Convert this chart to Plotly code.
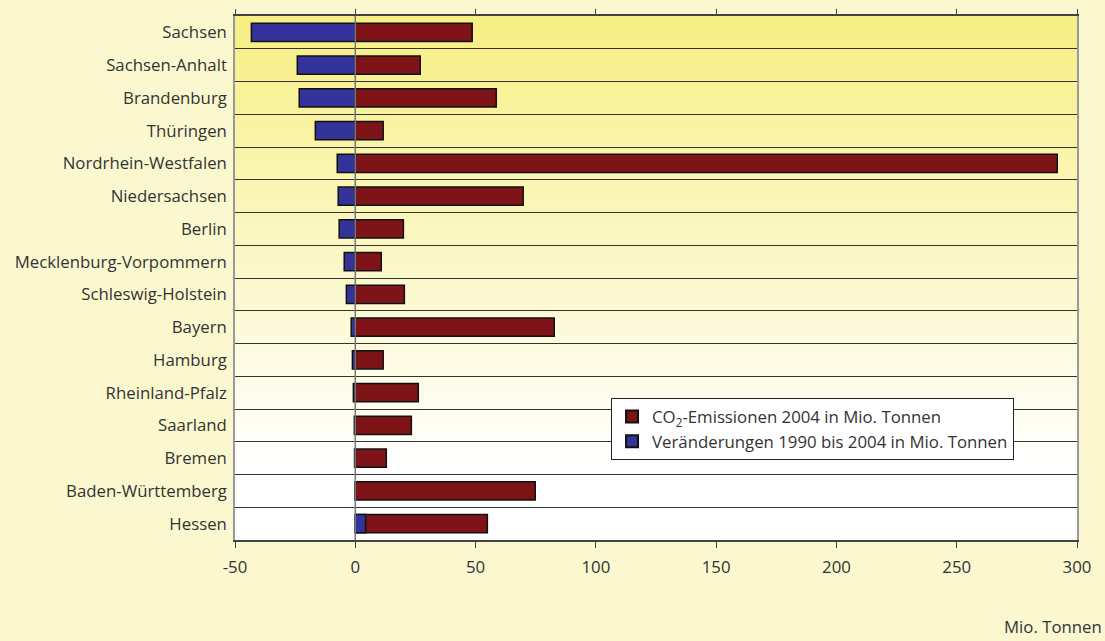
import plotly.graph_objects as go

states = ["Sachsen", "Sachsen-Anhalt", "Brandenburg", "Thüringen", "Nordrhein-Westfalen",
          "Niedersachsen", "Berlin", "Mecklenburg-Vorpommern", "Schleswig-Holstein", "Bayern",
          "Hamburg", "Rheinland-Pfalz", "Saarland", "Bremen", "Baden-Württemberg", "Hessen"]
co2_2004 = [48.6, 27.0, 58.6, 11.6, 291.8, 69.8, 20.0, 10.8, 20.4, 82.7,
            11.6, 26.2, 23.3, 12.9, 74.8, 54.9]
change_1990_2004 = [-43.2, -24.1, -23.3, -16.6, -7.5, -7.1, -6.7, -4.6, -3.7, -1.7,
                    -1.2, -0.8, -0.4, -0.3, -0.1, 4.3]
x_ticks = [-50, 0, 50, 100, 150, 200, 250, 300]
x_tick_labels = ["-50", "0", "50", "100", "150", "200", "250", "300"]

pos = list(range(len(states)))
font = "Open Sans"
fs = 16.8

fig = go.Figure()
fig.add_trace(go.Bar(y=pos, x=co2_2004, orientation="h", width=0.55,
                     name="CO<sub>2</sub>-Emissionen 2004 in Mio. Tonnen",
                     marker=dict(color="#7F1418", line=dict(color="#111111", width=1.5))))
fig.add_trace(go.Bar(y=pos, x=change_1990_2004, orientation="h", width=0.55,
                     name="Veränderungen 1990 bis 2004 in Mio. Tonnen",
                     marker=dict(color="#333399", line=dict(color="#111111", width=1.5))))
fig.add_trace(go.Scatter(x=[x_ticks[0], x_ticks[-1]], y=[0, 0], xaxis="x2", mode="none",
                         showlegend=False, hoverinfo="skip"))

# gradient background strips
def lerp(c1, c2, t):
    return "rgb(%d,%d,%d)" % tuple(round(a + (b - a) * t) for a, b in zip(c1, c2))

top_c = (247, 239, 132)
bot_c = (255, 255, 255)
n = 80
shapes = []
for i in range(n):
    f0 = i / n
    t = min(1.0, f0 / 0.85)
    shapes.append(dict(type="rect", xref="x domain", yref="y domain",
                       x0=0, x1=1, y0=1 - (i + 1) / n, y1=1 - f0 + 0.002,
                       fillcolor=lerp(top_c, bot_c, t), line=dict(width=0), layer="below"))
# zero line
shapes.append(dict(type="line", xref="x", yref="y domain", x0=0, x1=0, y0=0, y1=1,
                   line=dict(color="#777777", width=1.5), layer="above"))

fig.update_layout(
    width=1105, height=641,
    margin=dict(l=235, r=28, t=16, b=101),
    paper_bgcolor="#FBF8D0",
    plot_bgcolor="#FFFFFF",
    barmode="overlay",
    shapes=shapes,
    font=dict(family=font, size=fs, color="#333333"),
    xaxis=dict(range=[-50, 300], tickvals=x_ticks, ticktext=x_tick_labels,
               showgrid=False, zeroline=False,
               showline=True, linecolor="#444444", linewidth=1.5,
               ticks="outside", ticklen=6, tickcolor="#444444", ticklabelstandoff=5,
               tickfont=dict(size=fs, color="#333333"), fixedrange=True),
    xaxis2=dict(range=[-50, 300], tickvals=x_ticks, overlaying="x", side="top",
                showgrid=False, zeroline=False, showline=True, linecolor="#444444",
                linewidth=1.5, ticks="outside", ticklen=5, tickcolor="#444444",
                showticklabels=False),
    yaxis=dict(range=[15.5, -0.5], tickvals=pos, ticktext=states, showgrid=False,
               zeroline=False, showline=True, mirror=True, linecolor="#999999",
               linewidth=1.5, ticks="", ticklabelstandoff=3,
               tickfont=dict(size=fs, color="#333333"),
               minor=dict(tick0=0.5, dtick=1, showgrid=True, gridcolor="#333333",
                          gridwidth=1.2)),
    legend=dict(x=0.4466, y=0.271, xanchor="left", yanchor="top",
                bgcolor="#FFFFFF", bordercolor="#222222", borderwidth=1,
                font=dict(size=fs, color="#333333"), traceorder="normal",
                tracegroupgap=0, itemsizing="constant", itemwidth=30),
    annotations=[dict(text="Mio. Tonnen", xref="paper", yref="paper", x=1.032, y=-0.165,
                      xanchor="right", yanchor="middle", showarrow=False,
                      font=dict(size=fs, color="#333333"))],
)

fig.write_html("out.html")
